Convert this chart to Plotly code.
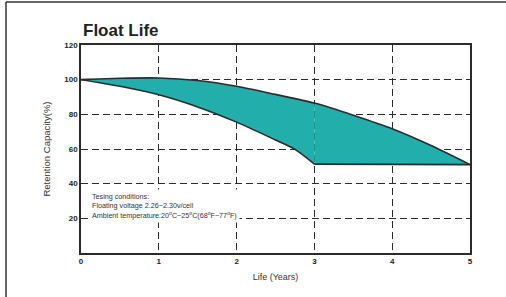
import plotly.graph_objects as go

# Data
upper_years = [0, 0.5, 1, 1.5, 2, 2.5, 3, 3.5, 4, 4.5, 5]
upper_capacity = [100, 100.8, 101, 99.5, 96.2, 91.5, 86.5, 79.5, 71.7, 62, 51]
lower_years = [0, 0.5, 1, 1.5, 2, 2.5, 2.75, 3]
lower_capacity = [100, 96.2, 91.3, 84.3, 75.5, 65.2, 59.8, 51.3]
floor_years = [3, 5]
floor_capacity = [51.3, 51]
x_ticks = [0, 1, 2, 3, 4, 5]
y_ticks = [20, 40, 60, 80, 100, 120]

W, H = 506, 297
ML, MR, MT, MB = 81, 36, 45, 44
PW, PH = W - ML - MR, H - MT - MB

def px(x):
    return (x - ML) / PW

def py(y):
    return (H - MB - y) / PH

DARK = "#2b2b2b"
TEAL = "#22aeab"

# split upper curve at year 3 for the fill sections
k = upper_years.index(3)
up_a_x, up_a_y = upper_years[:k + 1], upper_capacity[:k + 1]
up_b_x, up_b_y = upper_years[k:], upper_capacity[k:]

fig = go.Figure()
spl = dict(shape="spline", smoothing=0.8)
# fill section A (years 0-3)
fig.add_trace(go.Scatter(x=lower_years, y=lower_capacity, mode="lines",
                         line=dict(width=0, **spl), hoverinfo="skip"))
fig.add_trace(go.Scatter(x=up_a_x, y=up_a_y, mode="lines", line=dict(width=0, **spl),
                         fill="tonexty", fillcolor=TEAL, hoverinfo="skip"))
# fill section B (years 3-5)
fig.add_trace(go.Scatter(x=floor_years, y=floor_capacity, mode="lines",
                         line=dict(width=0), hoverinfo="skip"))
fig.add_trace(go.Scatter(x=up_b_x, y=up_b_y, mode="lines", line=dict(width=0, **spl),
                         fill="tonexty", fillcolor=TEAL, hoverinfo="skip"))
# outlines
fig.add_trace(go.Scatter(x=lower_years, y=lower_capacity, mode="lines",
                         line=dict(color=DARK, width=1.6, **spl), hoverinfo="skip"))
fig.add_trace(go.Scatter(x=floor_years, y=floor_capacity, mode="lines",
                         line=dict(color=DARK, width=1.6), hoverinfo="skip"))
fig.add_trace(go.Scatter(x=upper_years, y=upper_capacity, mode="lines",
                         line=dict(color=DARK, width=1.6, **spl), hoverinfo="skip"))

axis_common = dict(showline=True, linecolor=DARK, linewidth=1.6, mirror=True,
                   gridcolor=DARK, gridwidth=1.4, griddash="7px,4px",
                   zeroline=False, ticks="",
                   tickfont=dict(family="Liberation Sans", size=8, color="#222",
                                 weight="bold"))

fig.update_xaxes(range=[0, 5], tickvals=x_ticks, **axis_common,
                 title=dict(text="Life (Years)", standoff=8,
                            font=dict(family="Liberation Sans", size=9, color="#333")))
fig.update_yaxes(range=[0, 120], tickvals=y_ticks, **axis_common,
                 title=dict(text="Retention Capacity(%)", standoff=12,
                            font=dict(family="Liberation Sans", size=9.5, color="#333")))

fig.add_annotation(xref="paper", yref="paper", x=0, y=py(30), xanchor="left",
                   yanchor="middle", showarrow=False,
                   text="<b>Float Life</b>",
                   font=dict(family="Liberation Sans", size=17, color="#222"))

fig.add_annotation(xref="paper", yref="paper", x=px(89), y=py(206),
                   xanchor="left", yanchor="middle", showarrow=False, align="left",
                   bgcolor="white", borderpad=2,
                   text=("Tesing conditions:<br>Floating voltage 2.26~2.30v/cell<br>"
                         "Ambient temperature:20<sup>o</sup>C~25<sup>o</sup>C(68<sup>o</sup>F~77<sup>o</sup>F)"),
                   font=dict(family="Liberation Sans", size=7.2, color="#333"))

# outer frame (left and top edges visible)
fig.add_shape(type="line", xref="paper", yref="paper", x0=px(6), x1=px(6),
              y0=py(300), y1=py(2), line=dict(color="#333", width=1.5))
fig.add_shape(type="line", xref="paper", yref="paper", x0=px(6), x1=px(510),
              y0=py(2), y1=py(2), line=dict(color="#333", width=1.5))

fig.update_layout(width=W, height=H, margin=dict(l=ML, r=MR, t=MT, b=MB),
                  paper_bgcolor="white", plot_bgcolor="white", showlegend=False)

fig.write_html("out.html", config={"displayModeBar": False},
               post_script="document.body.style.margin='0';document.body.style.overflow='hidden';")
